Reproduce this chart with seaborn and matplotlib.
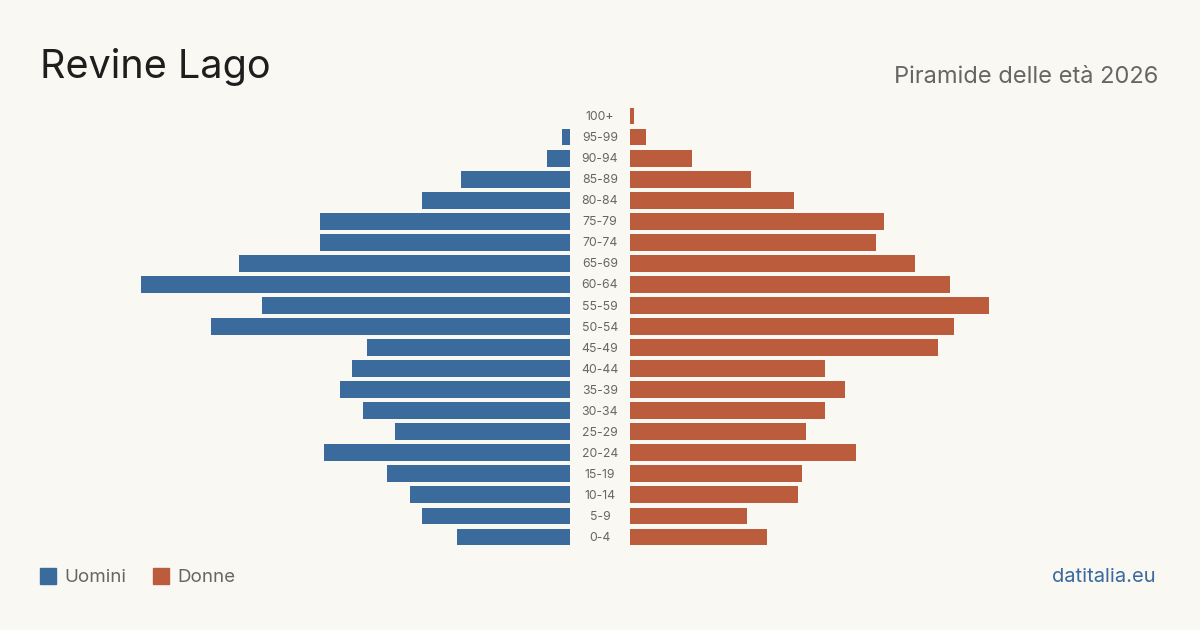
#!/usr/bin/env python3
"""Age pyramid for Revine Lago, 2026."""

import matplotlib
matplotlib.use("Agg")
import matplotlib.pyplot as plt
import matplotlib.transforms as mtransforms
from matplotlib.patches import Rectangle
import pandas as pd
import seaborn as sns

sns.set_theme(style="white")
plt.rcParams["font.family"] = ["Inter", "DejaVu Sans"]

BG = "#f9f8f3"
BLUE = "#3b6a9c"
ORANGE = "#bb5d3d"
GREY = "#666666"

AGES = ["100+", "95-99", "90-94", "85-89", "80-84", "75-79", "70-74",
        "65-69", "60-64", "55-59", "50-54", "45-49", "40-44", "35-39",
        "30-34", "25-29", "20-24", "15-19", "10-14", "5-9", "0-4"]
MEN = [0, 2, 6, 28, 38, 64, 64, 85, 110, 79, 92, 52, 56, 59, 53, 45, 63,
       47, 41, 38, 29]
WOMEN = [1, 4, 16, 31, 42, 65, 63, 73, 82, 92, 83, 79, 50, 55, 50, 45, 58,
         44, 43, 30, 35]

XMAX = 120


def main():
    df = pd.DataFrame({"age": AGES, "men": MEN, "women": WOMEN})

    fig = plt.figure(figsize=(12, 6.3), dpi=100, facecolor=BG)
    bottom = 1 - 547.5 / 630
    height = 442 / 630
    ax_l = fig.add_axes([102 / 1200, bottom, 468 / 1200, height])
    ax_r = fig.add_axes([630 / 1200, bottom, 468 / 1200, height])

    sns.barplot(data=df, y="age", x="men", orient="h", color=BLUE,
                saturation=1, width=0.8, linewidth=0, ax=ax_l)
    sns.barplot(data=df, y="age", x="women", orient="h", color=ORANGE,
                saturation=1, width=0.8, linewidth=0, ax=ax_r)

    ax_l.set_xlim(XMAX, 0)
    ax_r.set_xlim(0, XMAX)
    for ax in (ax_l, ax_r):
        ax.set_ylim(len(AGES) - 0.5, -0.5)
        ax.set_facecolor("none")
        ax.set(xlabel="", ylabel="", xticks=[], yticks=[])
        sns.despine(ax=ax, left=True, bottom=True)

    # Age labels in the gap between the two halves
    trans = mtransforms.blended_transform_factory(fig.transFigure, ax_r.transData)
    for i, age in enumerate(AGES):
        ax_r.text(600 / 1200, i + 0.05, age, transform=trans, ha="center",
                  va="center", fontsize=8.8, color=GREY, clip_on=False)

    # Titles
    fig.text(40 / 1200, 1 - 67 / 630, "Revine Lago", fontsize=28.5,
             color="#1e1e1e", va="center", ha="left")
    fig.text(1158 / 1200, 1 - 77 / 630, "Piramide delle età 2026",
             fontsize=17, color=GREY, va="center", ha="right")

    # Legend
    fig.patches.append(Rectangle((40 / 1200, 1 - 584 / 630), 16 / 1200,
                                 16 / 630, transform=fig.transFigure,
                                 color=BLUE))
    fig.text(64 / 1200, 1 - 577 / 630, "Uomini", fontsize=13.5, color=GREY,
             va="center", ha="left")
    fig.patches.append(Rectangle((153 / 1200, 1 - 584 / 630), 16 / 1200,
                                 16 / 630, transform=fig.transFigure,
                                 color=ORANGE))
    fig.text(177 / 1200, 1 - 577 / 630, "Donne", fontsize=13.5, color=GREY,
             va="center", ha="left")
    fig.text(1156 / 1200, 1 - 577 / 630, "datitalia.eu", fontsize=14.5,
             color=BLUE, va="center", ha="right")

    fig.savefig("out.png", dpi=100, facecolor=BG)


if __name__ == "__main__":
    main()
